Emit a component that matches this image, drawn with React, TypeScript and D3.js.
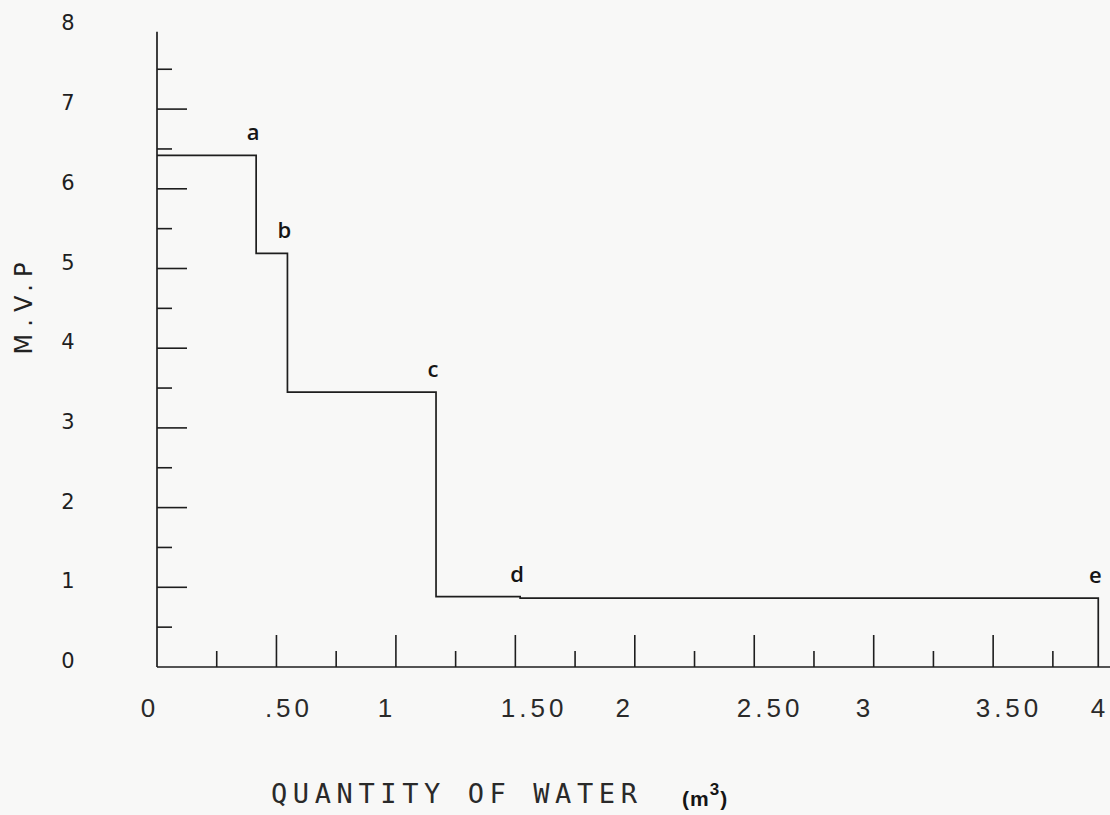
import React from "react";
import * as d3 from "d3";

// ---- data ----
const stepStarts = [0, 0.415, 0.546, 1.168, 1.52]; // quantity of water where each level starts (m3)
const stepEnd = 3.94;
const mvpLevels = [6.42, 5.19, 3.45, 0.883, 0.863]; // M.V.P value of each step
const pointNames = ["a", "b", "c", "d", "e"];
const pointX = [0.415, 0.546, 1.168, 1.52, 3.94];
const pointLevel = [6.42, 5.19, 3.45, 0.883, 0.863];

const yTickLabels = ["0", "1", "2", "3", "4", "5", "6", "7", "8"];
const yMajorTicks = [1, 2, 3, 4, 5, 6, 7];
const yMinorTicks = [0.5, 1.5, 2.5, 3.5, 4.5, 5.5, 6.5, 7.5];
const xMajorTicks = [0.5, 1, 1.5, 2, 2.5, 3, 3.5];
const xMinorTicks = [0.25, 0.75, 1.25, 1.75, 2.25, 2.75, 3.25, 3.75];
const xTickLabels = ["0", ".50", "1", "1.50", "2", "2.50", "3", "3.50", "4"];
const xTickLabelAt = [-0.038, 0.544, 0.954, 1.57, 1.95, 2.558, 2.955, 3.558, 3.93];

const W = 1110;
const H = 815;
const INK = "#1e1e1e";

export default function App() {
  const x = d3.scaleLinear().domain([0, 4]).range([157, 1112.6]);
  const y = d3.scaleLinear().domain([0, 8]).range([667, 29.4]);

  const pts: [number, number][] = stepStarts.map((s, i) => [s, mvpLevels[i]]);
  pts.push([stepEnd, mvpLevels[mvpLevels.length - 1]]);
  pts.push([stepEnd, 0]);
  const line = d3
    .line<[number, number]>()
    .x((d) => x(d[0]))
    .y((d) => y(d[1]))
    .curve(d3.curveStepAfter);

  return (
    <svg
      width={W}
      height={H}
      style={{ position: "absolute", left: 0, top: 0, background: "#f8f8f7" }}
    >
      {/* axes */}
      <line x1={x(0)} x2={x(0)} y1={y(0)} y2={y(7.97)} stroke={INK} strokeWidth={1.7} />
      <line x1={x(0)} x2={W} y1={y(0)} y2={y(0)} stroke={INK} strokeWidth={1.7} />

      {yMajorTicks.map((v) => (
        <line key={"ym" + v} x1={x(0)} x2={x(0) + 30} y1={y(v)} y2={y(v)} stroke={INK} strokeWidth={1.6} />
      ))}
      {yMinorTicks.map((v) => (
        <line key={"yn" + v} x1={x(0)} x2={x(0) + 15} y1={y(v)} y2={y(v)} stroke={INK} strokeWidth={1.6} />
      ))}
      {xMajorTicks.map((v) => (
        <line key={"xm" + v} x1={x(v)} x2={x(v)} y1={y(0)} y2={y(0) - 32} stroke={INK} strokeWidth={1.6} />
      ))}
      {xMinorTicks.map((v) => (
        <line key={"xn" + v} x1={x(v)} x2={x(v)} y1={y(0)} y2={y(0) - 16} stroke={INK} strokeWidth={1.6} />
      ))}

      {/* y tick labels */}
      {yTickLabels.map((t, i) => (
        <text
          key={"yl" + t}
          x={68}
          y={y(i) + 1}
          textAnchor="middle"
          fontFamily="'DejaVu Sans', sans-serif"
          fontSize={21}
          fill="#1f1f1f"
        >
          {t}
        </text>
      ))}

      {/* x tick labels */}
      {xTickLabels.map((t, i) => (
        <text
          key={"xl" + t}
          x={x(xTickLabelAt[i]) + 2}
          y={717}
          textAnchor="middle"
          fontFamily="'Liberation Sans', Arial, sans-serif"
          fontSize={26}
          letterSpacing={i === xTickLabels.length - 1 ? 0 : 4}
          fill="#2a2a2a"
        >
          {t}
        </text>
      ))}

      {/* step curve */}
      <path d={line(pts) || ""} fill="none" stroke={INK} strokeWidth={1.7} />

      {/* point labels */}
      {pointNames.map((n, i) => (
        <text
          key={"p" + n}
          x={x(pointX[i]) - 3}
          y={y(pointLevel[i]) - 15}
          textAnchor="middle"
          fontFamily="'Open Sans', 'Liberation Sans', sans-serif"
          fontWeight={600}
          fontSize={22}
          fill="#151515"
        >
          {n}
        </text>
      ))}

      {/* y title */}
      <text
        transform="translate(32,305) rotate(-90)"
        textAnchor="middle"
        fontFamily="'DejaVu Sans', sans-serif"
        fontSize={24}
        letterSpacing={7}
        fill="#222"
      >
        M.V.P
      </text>

      {/* x title */}
      <text
        x={271}
        y={803}
        fontFamily="'DejaVu Sans Mono', monospace"
        fontSize={27}
        letterSpacing={5.6}
        fill="#2a2a2a"
      >
        QUANTITY OF WATER
      </text>
      <text
        x={682}
        y={806}
        fontFamily="'Liberation Sans', Arial, sans-serif"
        fontWeight="bold"
        fontSize={21}
        letterSpacing={1}
        fill="#151515"
      >
        (m
        <tspan dy={-11} fontSize={17}>3</tspan>
        <tspan dy={11}>)</tspan>
      </text>
    </svg>
  );
}
